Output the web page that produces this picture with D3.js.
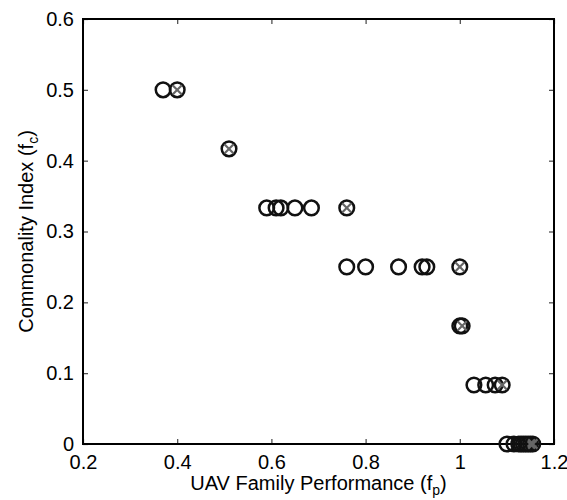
<!DOCTYPE html>
<html lang="en">
<head>
    <meta charset="UTF-8">
    <title>UAV family performance vs commonality</title>
    <style>
    body { margin: 0; background: #fff; }
    text { font-family: "Liberation Sans", Arial, sans-serif; fill: #000; }
    .tick line { stroke: #444; stroke-width: 1.2px; }
    .domain { display: none; }
    </style>
</head>
<body>
    <svg width="567" height="500"></svg>
    <script src="https://d3js.org/d3.v7.min.js"></script>
    <script type="text/javascript">
        // plain circles
        var openX = [0.37,
                     0.59, 0.61, 0.62, 0.65, 0.685,
                     0.76, 0.80, 0.87, 0.92, 0.93,
                     1.0,
                     1.03, 1.055, 1.075,
                     1.10, 1.115, 1.125, 1.13, 1.135, 1.14, 1.145];
        var openY = [0.5,
                     0.3333, 0.3333, 0.3333, 0.3333, 0.3333,
                     0.25, 0.25, 0.25, 0.25, 0.25,
                     0.1667,
                     0.0833, 0.0833, 0.0833,
                     0, 0, 0, 0, 0, 0, 0];
        // circles with a cross
        var crossX = [0.40, 0.51, 0.76, 1.0, 1.005, 1.09, 1.15, 1.155];
        var crossY = [0.5, 0.4167, 0.3333, 0.25, 0.1667, 0.0833, 0, 0];

        var xTicks = [0.2, 0.4, 0.6, 0.8, 1, 1.2];
        var yTicks = [0, 0.1, 0.2, 0.3, 0.4, 0.5, 0.6];

        var svg = d3.select("svg"),
            margin = {top: 19, right: 13, bottom: 56, left: 83},
            width = svg.attr("width") - margin.left - margin.right,
            height = svg.attr("height") - margin.top - margin.bottom,
            g = svg.append("g").attr("transform", "translate(" + margin.left + "," + margin.top + ")");

        var x = d3.scaleLinear().domain([0.2, 1.2]).range([0, width]),
            y = d3.scaleLinear().domain([0, 0.6]).range([height, 0]);

        var fmt = function(d) { return d3.format("")(+d.toFixed(1)); };
        var fs = 20;

        // bottom / left axes with inward ticks
        g.append("g")
          .attr("transform", "translate(0," + height + ")")
          .call(d3.axisBottom(x).tickValues(xTicks).tickSize(-5).tickPadding(11).tickFormat(fmt))
          .call(function(a) { a.selectAll("text").attr("font-size", fs); });

        g.append("g")
          .call(d3.axisLeft(y).tickValues(yTicks).tickSize(-5).tickPadding(9).tickFormat(fmt))
          .call(function(a) { a.selectAll("text").attr("font-size", fs); });

        // mirrored ticks top / right
        g.append("g")
          .call(d3.axisTop(x).tickValues(xTicks).tickSize(-5).tickFormat(""));
        g.append("g")
          .attr("transform", "translate(" + width + ",0)")
          .call(d3.axisRight(y).tickValues(yTicks).tickSize(-5).tickFormat(""));

        g.append("rect")
          .attr("width", width)
          .attr("height", height)
          .attr("fill", "none")
          .attr("stroke", "#000")
          .attr("stroke-width", 2);

        var r = 7.3;

        var openPts = openX.map(function(v, i) { return {x: v, y: openY[i]}; });
        var crossPts = crossX.map(function(v, i) { return {x: v, y: crossY[i]}; });

        g.selectAll(".open")
          .data(openPts)
          .enter().append("circle")
            .attr("class", "open")
            .attr("cx", function(d) { return x(d.x); })
            .attr("cy", function(d) { return y(d.y); })
            .attr("r", r)
            .attr("fill", "none")
            .attr("stroke", "#111")
            .attr("stroke-width", 2.5);

        var cross = g.selectAll(".cross")
          .data(crossPts)
          .enter().append("g")
            .attr("class", "cross")
            .attr("transform", function(d) { return "translate(" + x(d.x) + "," + y(d.y) + ")"; });

        cross.append("circle")
          .attr("r", r)
          .attr("fill", "none")
          .attr("stroke", "#111")
          .attr("stroke-width", 2.5);

        var k = 4.6;
        cross.append("path")
          .attr("d", "M" + (-k) + "," + (-k) + "L" + k + "," + k + "M" + (-k) + "," + k + "L" + k + "," + (-k))
          .attr("stroke", "#666")
          .attr("stroke-width", 2.2);

        // axis titles
        var xl = svg.append("text")
          .attr("x", margin.left + width / 2)
          .attr("y", 490)
          .attr("text-anchor", "middle")
          .attr("font-size", fs);
        xl.append("tspan").text("UAV Family Performance (f");
        xl.append("tspan").attr("font-size", 14).attr("dy", 5).text("p");
        xl.append("tspan").attr("dy", -5).text(")");

        var yl = svg.append("text")
          .attr("transform", "translate(33," + (margin.top + height / 2) + ") rotate(-90)")
          .attr("text-anchor", "middle")
          .attr("font-size", fs);
        yl.append("tspan").text("Commonality Index (f");
        yl.append("tspan").attr("font-size", 14).attr("dy", 5).text("c");
        yl.append("tspan").attr("dy", -5).text(")");
    </script>
</body>
</html>
